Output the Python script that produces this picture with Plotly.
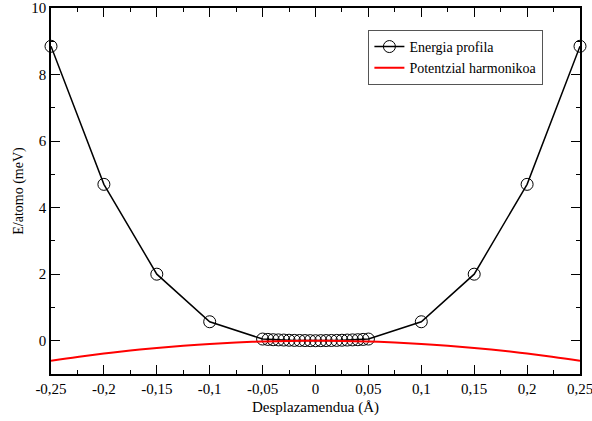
import plotly.graph_objects as go

# Energy profile data
x_energy = [-0.25, -0.2, -0.15, -0.1,
            -0.05, -0.045, -0.04, -0.035, -0.03, -0.025, -0.02, -0.015, -0.01, -0.005, 0.0,
            0.005, 0.01, 0.015, 0.02, 0.025, 0.03, 0.035, 0.04, 0.045, 0.05,
            0.1, 0.15, 0.2, 0.25]
y_energy = [8.85, 4.7, 2.0, 0.57,
            0.05, 0.04, 0.03, 0.025, 0.02, 0.015, 0.01, 0.008, 0.005, 0.003, 0.0,
            0.003, 0.005, 0.008, 0.01, 0.015, 0.02, 0.025, 0.03, 0.04, 0.05,
            0.57, 2.0, 4.7, 8.85]

# Harmonic potential data
x_harm = [-0.25, -0.225, -0.2, -0.175, -0.15, -0.125, -0.1, -0.075, -0.05, -0.025, 0.0,
          0.025, 0.05, 0.075, 0.1, 0.125, 0.15, 0.175, 0.2, 0.225, 0.25]
y_harm = [-0.6, -0.486, -0.384, -0.294, -0.216, -0.15, -0.096, -0.054, -0.024, -0.006, 0.0,
          -0.006, -0.024, -0.054, -0.096, -0.15, -0.216, -0.294, -0.384, -0.486, -0.6]

x_tickvals = [-0.25, -0.2, -0.15, -0.1, -0.05, 0, 0.05, 0.1, 0.15, 0.2, 0.25]
x_ticktext = ["-0,25", "-0,2", "-0,15", "-0,1", "-0,05", "0", "0,05", "0,1", "0,15", "0,2", "0,25"]
y_tickvals = [0, 2, 4, 6, 8, 10]
y_ticktext = ["0", "2", "4", "6", "8", "10"]

fig = go.Figure()
fig.add_trace(go.Scatter(
    x=x_energy, y=y_energy, mode="lines+markers", name="Energia profila",
    line=dict(color="black", width=1.5),
    marker=dict(symbol="circle-open", size=12, color="black", line=dict(width=1)),
    cliponaxis=False,
))
fig.add_trace(go.Scatter(
    x=x_harm, y=y_harm, mode="lines", name="Potentzial harmonikoa",
    line=dict(color="red", width=2, shape="spline"),
))

font_family = "'Liberation Serif', 'Times New Roman', Times, serif"
fig.update_layout(
    width=592, height=421,
    margin=dict(l=51, r=12, t=8, b=47, autoexpand=False),
    paper_bgcolor="white", plot_bgcolor="white",
    font=dict(family=font_family, size=14, color="black"),
    showlegend=True,
    legend=dict(
        x=0.6, y=0.94, xanchor="left", yanchor="top",
        bordercolor="#555555", borderwidth=1, bgcolor="white",
        font=dict(family=font_family, size=14),
        tracegroupgap=0, itemwidth=30,
    ),
)
fig.update_xaxes(
    range=[-0.25, 0.25], showgrid=False, zeroline=False, automargin=False,
    showline=True, linecolor="black", linewidth=1.5, mirror="ticks",
    ticks="inside", ticklen=9, tickwidth=1, tickcolor="black",
    tickvals=x_tickvals, ticktext=x_ticktext, ticklabeloverflow="allow",
    minor=dict(ticks="inside", ticklen=4, tickcolor="black", dtick=0.025, tick0=0, showgrid=False),
    title=dict(text="Desplazamendua (Å)", standoff=6, font=dict(size=15)),
    tickfont=dict(size=15),
)
fig.update_yaxes(
    range=[-1, 10], showgrid=False, zeroline=False, automargin=False,
    showline=True, linecolor="black", linewidth=1.5, mirror="ticks",
    ticks="inside", ticklen=9, tickwidth=1, tickcolor="black",
    tickvals=y_tickvals, ticktext=y_ticktext, ticklabeloverflow="allow",
    minor=dict(ticks="inside", ticklen=4, tickcolor="black", dtick=1, tick0=0, showgrid=False),
    title=dict(text="E/atomo (meV)", standoff=4, font=dict(size=14)),
    tickfont=dict(size=15),
)

fig.write_html("out.html")
